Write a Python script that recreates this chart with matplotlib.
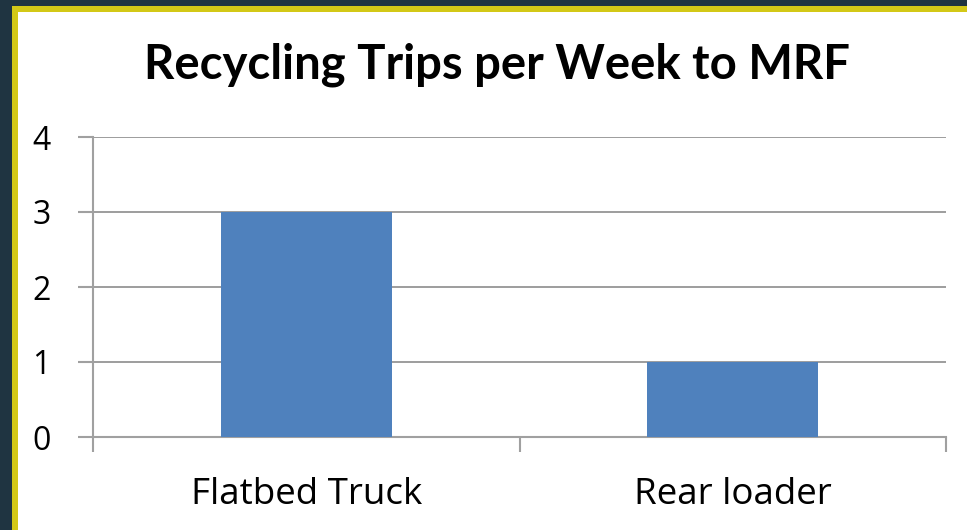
import matplotlib
matplotlib.use("Agg")
import matplotlib.pyplot as plt
from matplotlib.patches import Rectangle

categories = ["Flatbed Truck", "Rear loader"]
values = [3, 1]
yticks = [0, 1, 2, 3, 4]

plt.rcParams['font.family'] = ['Open Sans', 'DejaVu Sans']

W, H = 967, 530
fig = plt.figure(figsize=(W / 100, H / 100), dpi=100)
fig.patch.set_facecolor('#1F3441')
fig.patches.append(Rectangle((12 / W, 0), 1, 1 - 6 / H, transform=fig.transFigure,
                             facecolor='#D3C817', edgecolor='none', zorder=-2))
fig.patches.append(Rectangle((18 / W, 0), 1, 1 - 12 / H, transform=fig.transFigure,
                             facecolor='white', edgecolor='none', zorder=-1))

ax = fig.add_axes([93 / W, 1 - 437 / H, (946 - 93) / W, (437 - 137) / H])
ax.set_zorder(5)
ax.set_facecolor('none')
x = list(range(len(categories)))
ax.bar(x, values, width=0.4, color='#4F81BD', zorder=3)
ax.set_xlim(-0.5, len(categories) - 0.5)
ax.set_ylim(0, 4)
ax.set_yticks(yticks)
ax.set_yticklabels([str(t) for t in yticks], fontsize=23)
ax.set_xticks(x)
ax.set_xticklabels(categories, fontsize=26.5)
ax.set_xticks([i - 0.5 for i in range(len(categories) + 1)], minor=True)
ax.tick_params(axis='x', which='major', length=0, pad=29)
ax.tick_params(axis='x', which='minor', length=11, color='#A0A0A0', width=1.5, direction='out')
ax.tick_params(axis='y', length=11, color='#A0A0A0', width=1.5, pad=26)
for lbl in ax.get_yticklabels():
    lbl.set_horizontalalignment('center')
ax.grid(axis='y', color='#8C8C8C', linewidth=1.2, zorder=1)
for s in ['top', 'right']:
    ax.spines[s].set_visible(False)
for s in ['left', 'bottom']:
    ax.spines[s].set_color('#A0A0A0')
    ax.spines[s].set_linewidth(1.5)

fig.text(497 / W, 1 - 65 / H, "Recycling Trips per Week to MRF", ha='center', va='center',
         fontsize=34, fontweight='bold', family=['Lato', 'DejaVu Sans'], zorder=10)

fig.savefig("out.png", dpi=100, facecolor=fig.get_facecolor())
